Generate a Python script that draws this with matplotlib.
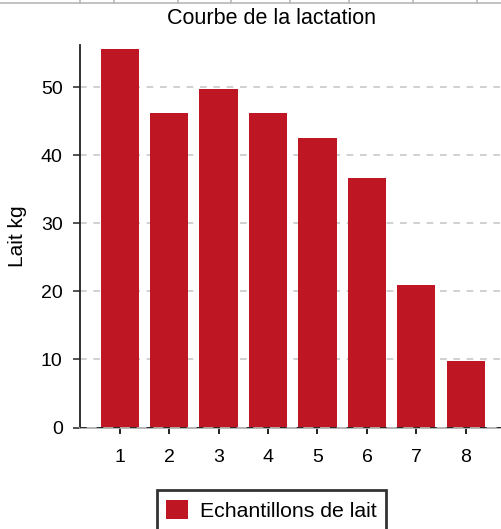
import matplotlib
matplotlib.use("Agg")
import matplotlib.pyplot as plt
from matplotlib.lines import Line2D

categories = ["1", "2", "3", "4", "5", "6", "7", "8"]
lait_kg = [55.6, 46.2, 49.7, 46.2, 42.6, 36.6, 20.9, 9.7]
yticks = [0, 10, 20, 30, 40, 50]
title = "Courbe de la lactation"
ylabel = "Lait kg"
series_name = "Echantillons de lait"

plt.rcParams['font.family'] = ['Liberation Sans', 'DejaVu Sans']
color = "#BE1622"

W, H = 502, 529
fig = plt.figure(figsize=(W / 100, H / 100), dpi=100)
ax = fig.add_axes([80 / W, 1 - 427.5 / H, (W - 80) / W, (427.5 - 45) / H])

x = list(range(1, len(categories) + 1))
ax.bar(x, lait_kg, width=0.77, color=color, zorder=2, label=series_name)
ax.set_xlim(0.2, 8.73)
ax.set_ylim(0, 56.2)
ax.set_xticks(x)
ax.set_xticklabels(categories)
ax.set_yticks(yticks)
ax.yaxis.grid(True, color="#c8c8c8", linestyle=(0, (4, 4)), linewidth=1.2, zorder=1)
ax.set_axisbelow(True)
for s in ["top", "right"]:
    ax.spines[s].set_visible(False)
ax.spines["left"].set_color("#222222")
ax.spines["left"].set_linewidth(1.3)
ax.spines["bottom"].set_color("#b0b0b0")
ax.spines["bottom"].set_linewidth(1.3)
ax.axhline(0, color="#111111", linestyle=(0, (4, 6)), linewidth=1.2, zorder=3)
ax.tick_params(axis="y", length=5, width=1.3, color="#444444", labelsize=14, pad=7.5)
ax.tick_params(axis="x", length=4, width=1.3, color="#111111", labelsize=14, pad=11.5)
ax.set_ylabel(ylabel, fontsize=15, labelpad=10)
fig.text(271.5 / W, 1 - 18 / H, title, ha="center", va="center", fontsize=15.5)

# spreadsheet cell line at top
fig.add_artist(Line2D([0, 1], [1 - 3 / H, 1 - 3 / H], color="#b8b8b8", linewidth=1.2))
for cx in [80, 114, 178, 231, 290, 349, 413, 477]:
    fig.add_artist(Line2D([cx / W, cx / W], [1 - 3 / H, 1], color="#b8b8b8", linewidth=1.2))

leg = fig.legend(loc="upper center", bbox_to_anchor=(271.5 / W, 1 - 490 / H), fontsize=15.3,
                 frameon=True, fancybox=False, handlelength=1.03, handleheight=1.03,
                 borderpad=0.45, handletextpad=0.57, borderaxespad=0)
leg.get_frame().set_edgecolor("black")
leg.get_frame().set_linewidth(2)

fig.savefig("out.png", dpi=100)
